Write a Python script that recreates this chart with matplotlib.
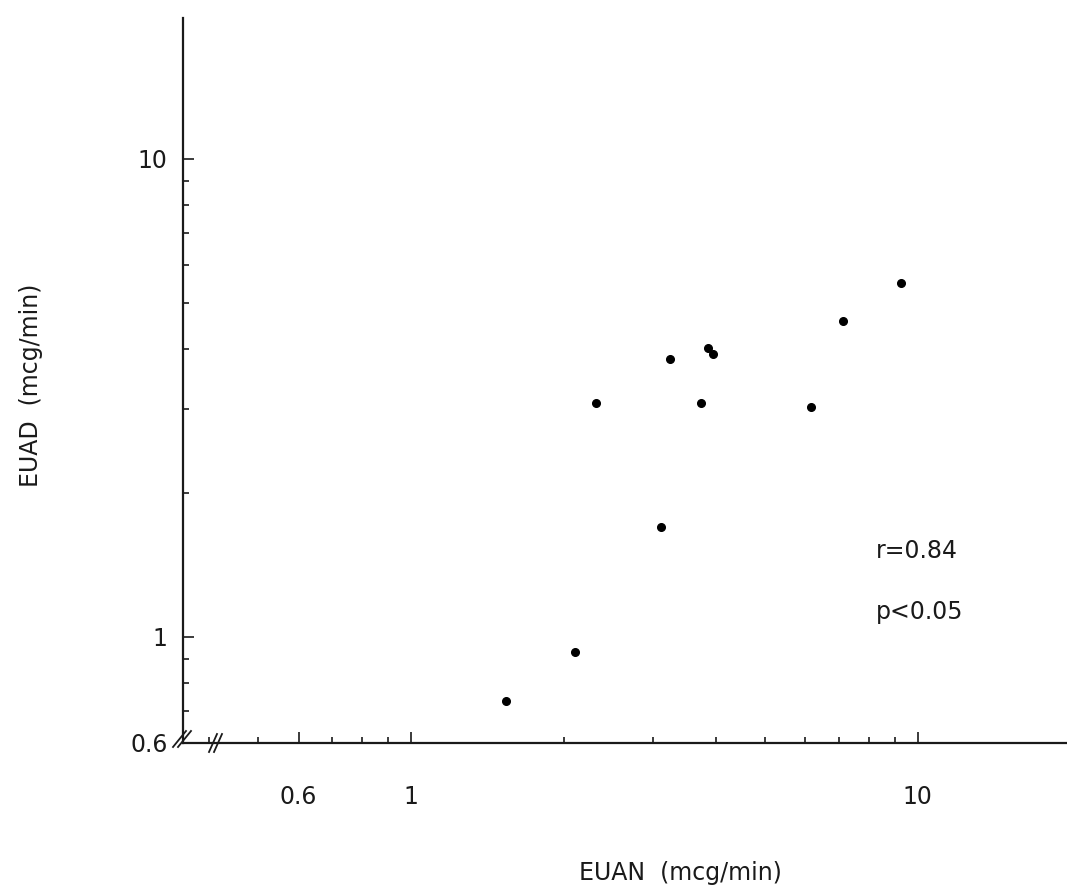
import matplotlib
matplotlib.use("Agg")
import matplotlib.pyplot as plt
from matplotlib.ticker import FixedLocator, NullFormatter

# Data
euan = [9.26, 7.12, 3.24, 3.85, 3.95, 2.32, 3.73, 6.15, 3.12, 2.11, 1.54]
euad = [5.50, 4.57, 3.81, 4.02, 3.90, 3.08, 3.08, 3.03, 1.70, 0.932, 0.733]

x_major = [0.6, 1, 10]
x_major_labels = ["0.6", "1", "10"]
y_major = [0.6, 1, 10]
y_major_labels = ["0.6", "1", "10"]
x_minor = [0.4, 0.5, 0.7, 0.8, 0.9, 2, 3, 4, 5, 6, 7, 8, 9]
y_minor = [0.7, 0.8, 0.9, 2, 3, 4, 5, 6, 7, 8, 9]

xlabel = "EUAN  (mcg/min)"
ylabel = "EUAD  (mcg/min)"
stat_lines = ["r=0.84", "p<0.05"]

plt.rcParams['font.family'] = ['DejaVu Sans']
ink = '#1a1a1a'

fig = plt.figure(figsize=(10.67, 8.92), dpi=100)
ax = fig.add_axes([183/1067, (892-743)/892, (1067-183)/1067, (743-18)/892])

ax.plot(euan, euad, 'o', color='black', markersize=5.5, linestyle='none')

ax.set_xscale('log')
ax.set_yscale('log')
ax.set_xlim(0.355, 19.7)
ax.set_ylim(0.6, 19.7)

ax.xaxis.set_major_locator(FixedLocator(x_major))
ax.set_xticklabels(x_major_labels)
ax.xaxis.set_minor_locator(FixedLocator(x_minor))
ax.xaxis.set_minor_formatter(NullFormatter())
ax.yaxis.set_major_locator(FixedLocator(y_major))
ax.set_yticklabels(y_major_labels)
ax.yaxis.set_minor_locator(FixedLocator(y_minor))
ax.yaxis.set_minor_formatter(NullFormatter())

ax.tick_params(axis='both', which='major', direction='in', length=8, width=1.2,
               labelsize=17, labelcolor=ink, color=ink)
ax.tick_params(axis='both', which='minor', direction='in', length=4, width=1.2, color=ink)
ax.tick_params(axis='x', which='major', pad=30)
ax.tick_params(axis='y', which='major', pad=11)

for s in ['top', 'right']:
    ax.spines[s].set_visible(False)
for s in ['left', 'bottom']:
    ax.spines[s].set_linewidth(1.6)
    ax.spines[s].set_color(ink)

ax.set_xlabel(xlabel, fontsize=17, color=ink)
ax.set_ylabel(ylabel, fontsize=17, color=ink)
ax.xaxis.set_label_coords(0.563, -0.163)
ax.yaxis.set_label_coords(-0.158, 0.494)

ax.text(0.784, 0.255, stat_lines[0], transform=ax.transAxes, fontsize=17,
        color=ink, ha='left', va='baseline')
ax.text(0.784, 0.171, stat_lines[1], transform=ax.transAxes, fontsize=17,
        color=ink, ha='left', va='baseline')

# axis break marks (decorations)
tr = ax.transAxes
def px(xp, yp):
    return ((xp - 183) / 884, (743 - yp) / 725)
for (x0, y0, x1, y1) in [(173, 747, 186, 731), (178, 747, 191, 731),
                         (209, 752, 217, 734), (214, 752, 222, 734)]:
    a = px(x0, y0); b = px(x1, y1)
    ax.plot([a[0], b[0]], [a[1], b[1]], transform=tr, color=ink, lw=1.3, clip_on=False)

fig.savefig('out.png', dpi=100)
